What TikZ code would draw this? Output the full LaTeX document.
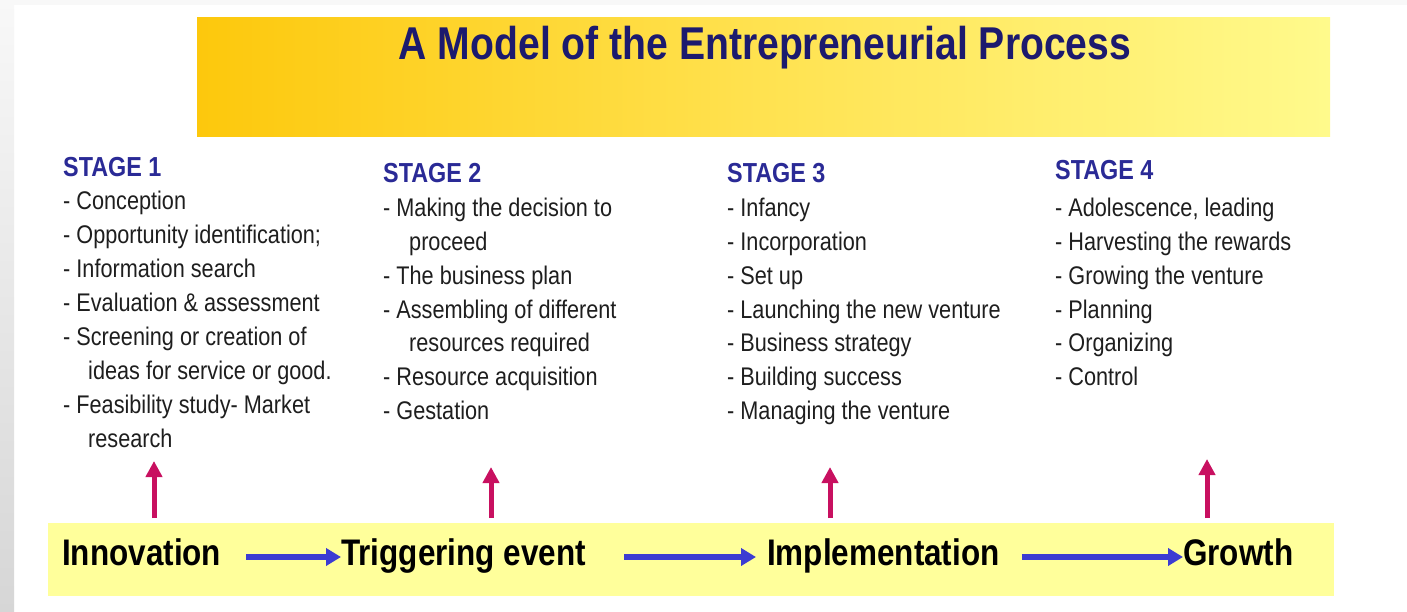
\documentclass[tikz,border=0pt]{standalone}
\usepackage{fontspec}
\setmainfont{Liberation Sans}[FakeStretch=0.85]
\usetikzlibrary{arrows.meta}
\definecolor{bannerL}{RGB}{253,200,12}
\definecolor{bannerM}{RGB}{255,226,80}
\definecolor{bannerR}{RGB}{255,250,140}
\definecolor{bandcol}{RGB}{255,255,155}
\definecolor{titlecol}{RGB}{28,26,110}
\definecolor{stagecol}{RGB}{42,42,150}
\definecolor{itemcol}{RGB}{30,30,30}
\definecolor{flowcol}{RGB}{60,60,210}
\definecolor{upcol}{RGB}{200,16,96}
\definecolor{edgeT}{RGB}{248,248,248}
\definecolor{edgeB}{RGB}{214,214,214}
\begin{document}
\begin{tikzpicture}[x=1pt,y=-1pt,
  titletext/.style={font=\fontsize{46}{50}\selectfont\bfseries, text=titlecol, inner sep=0pt},
  stagehead/.style={font=\fontsize{27.5}{32}\selectfont\bfseries, text=stagecol, inner sep=0pt, anchor=base west},
  item/.style={font=\fontsize{25.5}{32}\selectfont, text=itemcol, inner sep=0pt, anchor=base west},
  phase/.style={font=\fontsize{37}{40}\selectfont\bfseries, text=black, inner sep=0pt, anchor=base west},
  flow/.style={draw=flowcol, line width=5.5pt, -{Triangle[length=15pt,width=17pt]}},
  up/.style={draw=upcol, line width=5pt, -{Triangle[length=16pt,width=16pt]}}
]
\useasboundingbox (0,0) rectangle (1407,612);
% page edges
\fill[white] (0,0) rectangle (1407,612);
\shade[top color=edgeT, bottom color=edgeB] (0,0) rectangle (14,612);
\fill[edgeT] (14,0) rectangle (1407,5);
% title banner
\shade[left color=bannerL, right color=bannerR, middle color=bannerM] (197,18) rectangle (1330,137);
\node[titletext] (title) at (765,48) {A Model of the Entrepreneurial Process};
% bottom band
\fill[bandcol] (48,523) rectangle (1334,596);

% stage 1
\node[stagehead] (h1) at (63,177) {STAGE 1};
\foreach \t [count=\i] in {- Conception, - Opportunity identification;, - Information search, - Evaluation \& assessment, - Screening or creation of, \hspace*{25pt}ideas for service or good., - Feasibility study- Market, \hspace*{25pt}research}
  \node[item] (s1-\i) at (63,{210+33.9*(\i-1)}) {\t};
% stage 2
\node[stagehead] (h2) at (383,183) {STAGE 2};
\foreach \t [count=\i] in {- Making the decision to, \hspace*{26pt}proceed, - The business plan, - Assembling of different, \hspace*{26pt}resources required, - Resource acquisition, - Gestation}
  \node[item] (s2-\i) at (383,{217+33.7*(\i-1)}) {\t};
% stage 3
\node[stagehead] (h3) at (727,183) {STAGE 3};
\foreach \t [count=\i] in {- Infancy, - Incorporation, - Set up, - Launching the new venture, - Business strategy, - Building success, - Managing the venture}
  \node[item] (s3-\i) at (727,{217+33.7*(\i-1)}) {\t};
% stage 4
\node[stagehead] (h4) at (1055,180) {STAGE 4};
\foreach \t [count=\i] in {{- Adolescence, leading}, - Harvesting the rewards, - Growing the venture, - Planning, - Organizing, - Control}
  \node[item] (s4-\i) at (1055,{217+33.7*(\i-1)}) {\t};

% phases
\node[phase] (innov) at (62,565) {Innovation};
\node[phase] (trig) at (341,565) {Triggering event};
\node[phase] (impl) at (767,565) {Implementation};
\node[phase] (grow) at (1183,565) {Growth};

\draw[flow] ([xshift=25pt,yshift=8pt]innov.base east) -- ([yshift=8pt]trig.base west);
\draw[flow] ([xshift=38pt,yshift=8pt]trig.base east) -- ([xshift=-11pt,yshift=8pt]impl.base west);
\draw[flow] ([xshift=22pt,yshift=8pt]impl.base east) -- ([yshift=8pt]grow.base west);

% upward arrows
\coordinate (u1b) at (154,518); \coordinate (u1t) at (154,461);
\coordinate (u2b) at (491,518); \coordinate (u2t) at (491,467);
\coordinate (u3b) at (830,518); \coordinate (u3t) at (830,467);
\coordinate (u4b) at (1207,518); \coordinate (u4t) at (1207,459);
\draw[up] (u1b) -- (u1t);
\draw[up] (u2b) -- (u2t);
\draw[up] (u3b) -- (u3t);
\draw[up] (u4b) -- (u4t);
\end{tikzpicture}
\end{document}
